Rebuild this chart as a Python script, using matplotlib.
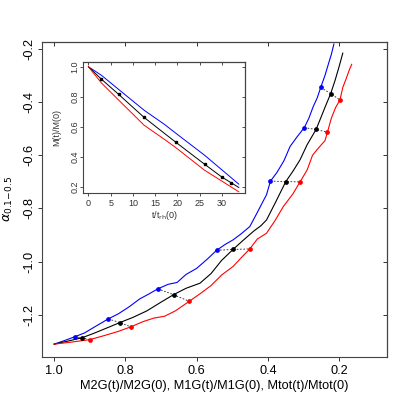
import matplotlib
matplotlib.use("Agg")
import matplotlib.pyplot as plt
import numpy as np

plt.rcParams['font.family'] = ['Liberation Sans', 'DejaVu Sans']
plt.rcParams['mathtext.fontset'] = 'dejavusans'

# ---- main panel curves: mass fraction (x) vs alpha (y)
blue_x = [1.000,0.970,0.942,0.915,0.880,0.848,0.820,0.790,0.760,0.735,0.709,0.680,0.655,0.630,0.600,0.570,0.544,0.520,0.498,0.475,0.451,0.430,0.404,0.393,0.375,0.355,0.338,0.318,0.298,0.285,0.273,0.262,0.252,0.240,0.230,0.222,0.215]
blue_y = [-1.310,-1.296,-1.282,-1.268,-1.240,-1.215,-1.196,-1.170,-1.140,-1.122,-1.102,-1.085,-1.078,-1.048,-1.025,-0.990,-0.957,-0.935,-0.918,-0.895,-0.868,-0.815,-0.748,-0.697,-0.665,-0.620,-0.567,-0.530,-0.496,-0.460,-0.417,-0.385,-0.345,-0.300,-0.255,-0.220,-0.182]

black_x = [1.000,0.960,0.922,0.890,0.850,0.816,0.780,0.740,0.700,0.665,0.630,0.591,0.560,0.530,0.498,0.470,0.440,0.420,0.404,0.380,0.350,0.330,0.310,0.290,0.265,0.252,0.240,0.224,0.212,0.200,0.190]
black_y = [-1.310,-1.298,-1.286,-1.270,-1.248,-1.229,-1.210,-1.185,-1.152,-1.124,-1.100,-1.081,-1.045,-0.995,-0.954,-0.920,-0.885,-0.865,-0.843,-0.780,-0.699,-0.660,-0.617,-0.560,-0.503,-0.460,-0.420,-0.368,-0.320,-0.265,-0.216]

red_x = [1.000,0.950,0.900,0.860,0.820,0.785,0.750,0.720,0.690,0.660,0.621,0.590,0.560,0.530,0.498,0.475,0.451,0.430,0.404,0.380,0.357,0.330,0.310,0.290,0.275,0.263,0.250,0.240,0.233,0.222,0.210,0.198,0.190,0.180,0.172,0.165]
red_y = [-1.310,-1.302,-1.293,-1.278,-1.262,-1.245,-1.225,-1.212,-1.205,-1.185,-1.149,-1.120,-1.090,-1.050,-1.018,-0.985,-0.952,-0.915,-0.893,-0.845,-0.793,-0.745,-0.700,-0.655,-0.600,-0.580,-0.560,-0.545,-0.513,-0.460,-0.420,-0.392,-0.345,-0.310,-0.280,-0.258]

# ---- marked snapshots (same times in all three series)
blue_mx = [0.942,0.848,0.709,0.544,0.393,0.298,0.252]
blue_my = [-1.282,-1.215,-1.102,-0.957,-0.697,-0.496,-0.345]
black_mx = [0.922,0.816,0.665,0.498,0.350,0.265,0.224]
black_my = [-1.286,-1.229,-1.124,-0.954,-0.699,-0.503,-0.368]
red_mx = [0.900,0.785,0.621,0.451,0.310,0.233,0.198]
red_my = [-1.293,-1.245,-1.149,-0.952,-0.700,-0.513,-0.392]

# ---- inset: M(t)/M(0) vs t/t_rh(0)
in_blue_t = [0,2.9,6.8,12.5,17.1,19.7,26.1,33.8]
in_blue_m = [1.0,0.944,0.849,0.711,0.616,0.556,0.411,0.218]
in_black_t = [0,2.9,6.8,12.5,17.1,19.7,26.1,30.0,32.1,33.8]
in_black_m = [1.0,0.918,0.816,0.663,0.556,0.496,0.351,0.265,0.227,0.196]
in_red_t = [0,2.9,6.8,12.5,17.1,19.7,26.1,33.8]
in_red_m = [1.0,0.893,0.778,0.611,0.516,0.460,0.311,0.167]
in_mark_t = [2.9,6.8,12.5,19.7,26.1,30.0,32.1]
in_mark_m = [0.918,0.816,0.663,0.496,0.351,0.265,0.227]

main_xticks = [1.0,0.8,0.6,0.4,0.2]
main_yticks = [-1.2,-1.0,-0.8,-0.6,-0.4,-0.2]
inset_xticks = [0,5,10,15,20,25,30]
inset_yticks = [0.2,0.4,0.6,0.8,1.0]

fig = plt.figure(figsize=(4.09,4.09), dpi=100)
ax = fig.add_axes([0.102,0.128,0.845,0.770])
lw = 0.8
ax.plot(blue_x, blue_y, color='blue', lw=lw)
ax.plot(black_x, black_y, color='black', lw=lw)
ax.plot(red_x, red_y, color='red', lw=lw)
for i in range(len(black_mx)):
    ax.plot([blue_mx[i], black_mx[i], red_mx[i]], [blue_my[i], black_my[i], red_my[i]],
            ls=(0,(2,2)), color='#222222', lw=0.6)
ax.plot(blue_mx, blue_my, 'o', color='blue', ms=2.4)
ax.plot(black_mx, black_my, 'o', color='black', ms=2.4)
ax.plot(red_mx, red_my, 'o', color='red', ms=2.4)
ax.set_xlim(1.035, 0.065)
ax.set_ylim(-1.357, -0.173)
ax.set_xticks(main_xticks)
ax.set_xticklabels(['%.1f' % v for v in main_xticks], fontsize=9.2)
ax.set_yticks(main_yticks)
ax.set_yticklabels(['%.1f' % v for v in main_yticks], fontsize=9.2, rotation=90, va='center')
ax.tick_params(direction='out', length=3, width=0.7, pad=3, colors='#333333', labelcolor='black')
ax.tick_params(axis='y', pad=1.5)
for s in ax.spines.values():
    s.set_linewidth(0.8); s.set_color('#444444')
ax.set_xlabel('M2G(t)/M2G(0), M1G(t)/M1G(0), Mtot(t)/Mtot(0)', fontsize=9.2, labelpad=2)
ax.set_ylabel(r'$\alpha_{0.1\!-\!0.5}$', fontsize=9.2)
ax.yaxis.set_label_coords(-0.077, 0.5)
sx = ax.secondary_xaxis('top'); sx.set_xticks(main_xticks)
sx.tick_params(direction='in', length=3, width=0.7, labeltop=False, colors='#333333')
sy = ax.secondary_yaxis('right'); sy.set_yticks(main_yticks)
sy.tick_params(direction='in', length=3, width=0.7, labelright=False, colors='#333333')

# inset
ai = fig.add_axes([0.204,0.527,0.394,0.321])
ai.plot(in_blue_t, in_blue_m, color='blue', lw=0.7)
ai.plot(in_black_t, in_black_m, color='black', lw=0.7)
ai.plot(in_red_t, in_red_m, color='red', lw=0.7)
ai.plot(in_mark_t, in_mark_m, 's', color='black', ms=1.8)
ai.set_xlim(-1.13, 35.1)
ai.set_ylim(0.156, 1.031)
ai.set_xticks(inset_xticks)
ai.set_xticklabels([str(v) for v in inset_xticks], fontsize=6.5)
ai.set_yticks(inset_yticks)
ai.set_yticklabels(['%.1f' % v for v in inset_yticks], fontsize=6.5, rotation=90, va='center')
ai.tick_params(direction='out', length=2, width=0.6, pad=2, colors='#333333', labelcolor='#333333')
ai.tick_params(axis='y', pad=1)
for s in ai.spines.values():
    s.set_linewidth(0.8); s.set_color('#444444')
ai.set_xlabel(r't/t$_{\rm rh}$(0)', fontsize=6.5, labelpad=1, color='#333333')
ai.set_ylabel('M(t)/M(0)', fontsize=6.5, color='#333333')
ai.yaxis.set_label_coords(-0.135, 0.5)
six = ai.secondary_xaxis('top'); six.set_xticks(inset_xticks)
six.tick_params(direction='in', length=2, width=0.6, labeltop=False, colors='#333333')
siy = ai.secondary_yaxis('right'); siy.set_yticks(inset_yticks)
siy.tick_params(direction='in', length=2, width=0.6, labelright=False, colors='#333333')

fig.savefig('out.png', dpi=100)
